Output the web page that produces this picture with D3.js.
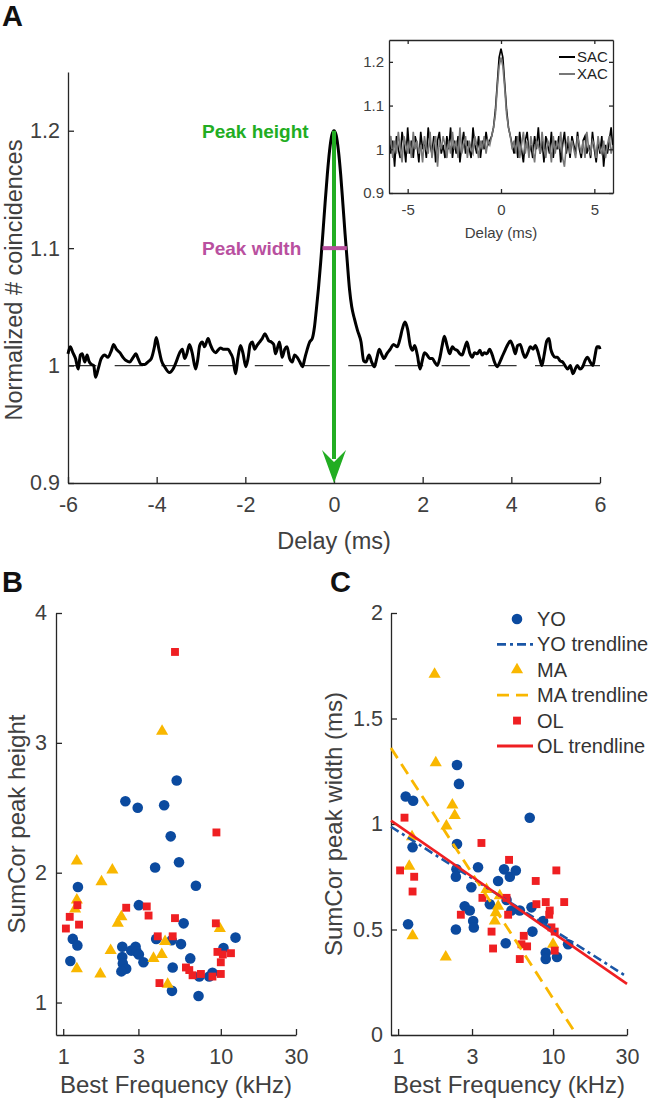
<!DOCTYPE html>
<html><head><meta charset="utf-8">
<script src="https://cdn.jsdelivr.net/npm/d3@7"></script>
<style>
body{margin:0;background:#fff;}
svg{display:block;font-family:"Liberation Sans",Arial,Helvetica,sans-serif;}
</style>
</head><body>
<svg id="chart" width="653" height="1101"></svg>
<script>
// ---------------- DATA ----------------
// Panel A main trace (delay in ms, normalized coincidences)
const traceDelay = [-6.00,-5.95,-5.89,-5.83,-5.77,-5.72,-5.68,-5.62,-5.57,-5.53,-5.47,-5.42,-5.38,-5.32,-5.25,-5.17,-5.10,-5.02,-4.97,-4.91,-4.83,-4.76,-4.68,-4.61,-4.53,-4.47,-4.42,-4.35,-4.27,-4.20,-4.12,-4.05,-4.01,-3.95,-3.89,-3.82,-3.71,-3.63,-3.56,-3.48,-3.42,-3.37,-3.32,-3.26,-3.20,-3.12,-3.07,-3.03,-2.97,-2.92,-2.84,-2.79,-2.73,-2.67,-2.62,-2.56,-2.50,-2.44,-2.39,-2.34,-2.28,-2.22,-2.17,-2.11,-2.05,-1.99,-1.94,-1.89,-1.84,-1.79,-1.74,-1.68,-1.62,-1.56,-1.51,-1.47,-1.41,-1.36,-1.32,-1.26,-1.23,-1.17,-1.11,-1.06,-1.00,-0.94,-0.89,-0.83,-0.77,-0.71,-0.66,-0.61,-0.55,-0.49,-0.44,
-0.40,-0.35,-0.30,-0.25,-0.20,-0.15,-0.10,-0.05,0,0.05,0.10,0.15,0.20,0.25,0.30,0.35,0.40,0.46,0.53,0.61,0.67,0.72,
0.79,0.85,0.91,0.97,1.02,1.07,1.13,1.19,1.27,1.34,1.43,1.49,1.54,1.60,1.66,1.72,1.77,1.82,1.88,1.94,1.99,2.04,2.10,2.16,2.22,2.27,2.33,2.39,2.44,2.49,2.55,2.61,2.67,2.72,2.78,2.84,2.89,2.94,3.00,3.06,3.12,3.17,3.23,3.29,3.34,3.39,3.45,3.51,3.57,3.62,3.68,3.74,3.81,3.87,3.92,3.98,4.04,4.09,4.14,4.20,4.26,4.31,4.37,4.43,4.49,4.54,4.59,4.64,4.69,4.74,4.80,4.85,4.89,4.94,4.99,5.04,5.10,5.16,5.21,5.27,5.33,5.39,5.44,5.49,5.55,5.61,5.66,5.72,5.78,5.84,5.89,5.93,5.98,6.00];
const traceValue = [1.010,1.016,1.011,1.006,0.997,1.009,1.010,1.003,1.009,1.004,1.001,1.000,0.990,0.997,1.006,1.009,1.007,1.013,1.018,1.014,1.011,1.007,1.004,1.003,1.007,1.010,1.006,1.001,1.001,1.003,1.006,1.016,1.024,1.014,1.004,0.999,0.994,0.997,1.003,1.011,1.014,1.006,1.010,1.018,1.011,0.997,1.006,1.017,1.020,1.016,1.023,1.018,1.013,1.011,1.013,1.015,1.014,1.014,1.014,1.011,1.006,0.993,1.006,1.017,1.010,0.999,1.006,1.018,1.020,1.014,1.017,1.020,1.023,1.027,1.024,1.021,1.020,1.018,1.010,1.017,1.020,1.007,1.014,1.016,1.006,1.003,1.009,1.007,1.003,0.999,1.006,1.013,1.020,1.023,1.033,
1.047,1.066,1.088,1.113,1.139,1.163,1.183,1.196,1.200,1.196,1.183,1.163,1.138,1.112,1.088,1.065,1.050,1.040,1.030,1.020,1.004,1.003,
1.009,1.003,0.999,1.007,1.014,1.010,1.006,1.010,1.014,1.018,1.016,1.023,1.031,1.037,1.031,1.017,1.013,1.017,1.009,0.997,1.004,1.011,1.009,1.006,1.006,1.003,1.000,1.007,1.017,1.025,1.017,1.010,1.016,1.014,1.013,1.010,1.009,1.014,1.020,1.011,1.007,1.011,1.010,1.013,1.009,1.011,1.010,1.014,1.009,1.003,0.999,1.003,1.009,1.014,1.018,1.021,1.016,1.010,1.017,1.018,1.011,1.007,1.011,1.016,1.014,1.017,1.013,1.006,1.000,1.009,1.021,1.023,1.014,1.009,1.007,1.007,1.004,1.003,1.000,0.997,1.000,0.993,0.997,1.000,0.997,0.999,1.004,1.007,1.003,1.000,1.009,1.016,1.016,1.014];
const aTicksX = [-6,-4,-2,0,2,4,6];
const aTicksY = [0.9,1,1.1,1.2];
const aTickLabelsY = ["0.9","1","1.1","1.2"];
const peakHeight = 1.2;
const peakWidthLevel = 1.1;
const peakWidthRange = [-0.26, 0.29];

// Inset: SAC / XAC, sampled every 0.1 ms from -6 to 6
const insetStart = -6, insetStep = 0.1;
const sacValues = [1.04,0.99,1.02,0.96,1.03,1.00,0.98,1.04,1.01,0.97,
1.05,0.99,1.02,0.98,1.03,1.01,0.97,1.04,1.00,1.02,
0.98,1.05,1.01,0.99,1.03,0.97,1.02,1.04,0.99,1.01,
0.98,1.03,1.00,1.05,0.98,1.02,0.99,1.03,0.97,1.01,
1.04,0.99,1.02,1.00,0.98,1.05,1.01,0.99,1.03,0.98,
1.02,1.00,1.04,1.01,1.02,
1.03,1.05,1.09,1.15,1.21,1.23,1.21,1.15,1.09,1.05,1.03,
1.01,0.99,1.03,0.98,1.04,1.00,0.97,1.02,1.04,0.99,
1.01,0.98,1.03,1.00,1.05,0.99,1.02,0.97,1.03,1.01,
0.99,1.04,0.98,1.02,1.00,1.03,0.97,1.01,1.04,0.99,
1.02,0.98,1.03,1.01,0.99,1.04,1.00,0.98,1.02,1.03,
0.99,1.01,0.98,1.04,1.00,0.97,1.02,0.99,1.03,0.96,
1.01,0.99,1.02,1.05,1.00];
const xacValues = [1.00,1.03,0.98,1.02,0.99,1.04,1.00,0.97,1.03,1.01,
0.99,1.02,0.98,1.04,1.00,1.02,0.99,1.01,0.97,1.03,
1.00,0.99,1.04,0.98,1.01,1.03,0.96,1.02,1.00,1.03,
1.01,0.98,1.02,0.99,1.04,1.00,1.02,0.98,1.05,0.99,
1.01,1.03,0.98,1.02,1.00,0.99,1.03,1.01,0.98,1.02,
1.00,1.03,0.99,1.02,1.01,
1.03,1.05,1.08,1.14,1.19,1.21,1.19,1.14,1.08,1.05,1.03,
1.00,1.02,0.99,1.03,0.98,1.01,1.04,0.99,1.02,0.98,
1.03,1.00,0.97,1.02,1.01,0.99,1.04,1.00,0.98,1.02,
1.01,0.97,1.03,0.99,1.02,1.00,1.04,0.98,0.96,1.01,
1.03,0.99,1.02,1.00,0.98,1.03,1.01,0.99,1.02,0.98,
1.04,1.00,0.99,1.02,1.01,0.98,1.03,1.00,0.99,1.02,
0.98,1.01,1.03,0.99,1.01];
const insetTicksX = [-5,0,5];
const insetTicksY = [0.9,1,1.1,1.2];
const insetLegend = ["SAC","XAC"];

// Panel B: [best frequency kHz, SumCor peak height]
const yoHeight = [[2.48,2.55],[2.97,2.50],[4.37,2.52],[5.25,2.71],[4.81,2.28],[3.83,2.04],[5.43,2.08],[6.95,1.90],[1.24,1.89],[3.02,1.75],[1.15,1.49],[1.23,1.44],[1.11,1.32],[2.37,1.43],[2.37,1.35],[2.39,1.30],[2.51,1.26],[2.34,1.24],[2.70,1.40],[2.88,1.43],[2.93,1.39],[3.02,1.37],[3.23,1.31],[3.89,1.49],[4.88,1.48],[5.81,1.61],[5.59,1.45],[4.90,1.09],[4.95,1.27],[7.22,1.05],[6.40,1.34],[7.30,1.20],[8.44,1.20],[8.85,1.23],[10.4,1.42],[12.4,1.50]];
const maHeight = [[4.24,3.09],[1.22,2.09],[1.75,1.93],[2.05,2.02],[1.22,1.79],[1.19,1.72],[1.22,1.26],[2.34,1.66],[2.22,1.61],[2.00,1.40],[1.72,1.22],[4.43,1.47],[3.74,1.34],[4.22,1.37],[4.60,1.14],[9.86,1.57]];
const olHeight = [[9.38,2.31],[5.12,3.70],[1.23,1.75],[1.10,1.66],[1.26,1.60],[1.04,1.57],[2.51,1.73],[3.39,1.74],[3.48,1.67],[3.98,1.51],[4.95,1.51],[5.12,1.65],[4.08,1.15],[6.01,1.27],[6.31,1.25],[6.62,1.21],[7.48,1.22],[8.85,1.20],[10.0,1.22],[9.52,1.39],[10.3,1.37],[10.0,1.31],[11.6,1.38],[9.30,1.61]];
const bfTicks = [1,3,10,30];
const heightTicks = [1,2,3,4];

// Panel C: [best frequency kHz, SumCor peak width ms]
const yoWidth = [[1.12,1.13],[1.25,1.11],[1.24,0.89],[1.16,0.525],[2.40,1.28],[2.47,1.19],[2.40,0.905],[2.38,0.785],[2.36,0.75],[2.36,0.50],[2.69,0.61],[2.90,0.59],[2.97,0.70],[3.05,0.54],[3.08,0.51],[3.28,0.795],[3.91,0.62],[4.42,0.73],[4.83,0.785],[4.95,0.435],[5.01,0.64],[5.26,0.75],[5.39,0.59],[5.75,0.78],[6.10,0.59],[7.07,1.03],[7.26,0.605],[7.36,0.49],[8.62,0.54],[8.97,0.39],[8.97,0.36],[10.6,0.37],[12.5,0.43]];
const maWidth = [[1.72,1.71],[1.75,1.29],[2.24,1.09],[2.32,1.04],[2.05,0.99],[1.23,0.94],[1.18,0.80],[1.24,0.47],[2.03,0.37],[3.72,0.69],[4.53,0.66],[4.42,0.61],[4.27,0.58],[4.21,0.54],[10.0,0.43]];
const olWidth = [[1.10,1.03],[1.03,0.78],[1.27,0.75],[1.24,0.68],[2.54,0.57],[3.45,0.91],[3.50,0.65],[4.01,0.49],[4.10,0.41],[5.01,0.65],[5.13,0.57],[5.20,0.83],[6.10,0.36],[6.25,0.43],[6.47,0.47],[6.80,0.42],[7.73,0.73],[7.81,0.62],[8.97,0.63],[9.52,0.59],[9.45,0.57],[9.76,0.51],[10.25,0.49],[10.25,0.40],[10.5,0.78],[11.8,0.63]];
const yoTrend = [[0.9,0.987],[30,0.276]];
const maTrend = [[0.9,1.36],[14.2,0]];
const olTrend = [[0.9,1.016],[30,0.242]];
const widthTicks = [0,0.5,1,1.5,2];
const widthTickLabels = ["0","0.5","1","1.5","2"];
const legendLabels = ["YO","YO trendline","MA","MA trendline","OL","OL trendline"];

// ---------------- STYLE ----------------
const C_YO = "#0b4a9f", C_MA = "#f9b700", C_OL = "#ef1f22";
const C_GREEN = "#22ad22", C_MAG = "#b9509f";
const AX = "#262626", TXT = "#404040";

const svg = d3.select("#chart");

function styleAxis(g, fs){
  g.attr("font-family", null).attr("font-size", null);
  g.select(".domain").attr("stroke", AX).attr("stroke-width", 1.3);
  g.selectAll(".tick line").attr("stroke", AX).attr("stroke-width", 1.3);
  g.selectAll(".tick text").attr("fill", TXT).style("font-size", fs + "px");
}
function label(x, y, text, fs, opts = {}){
  const t = svg.append("text").attr("x", x).attr("y", y).text(text)
    .style("font-size", fs + "px").attr("fill", opts.fill || TXT)
    .attr("text-anchor", opts.anchor || "middle");
  if (opts.bold) t.style("font-weight", "bold");
  if (opts.rotate) t.attr("transform", `rotate(-90,${x},${y})`);
  return t;
}

// ---------------- PANEL A ----------------
const xA = d3.scaleLinear().domain([-6, 6]).range([68, 600]);
const yA = d3.scaleLinear().domain([0.9, 1.25]).range([483, 72]);

svg.append("line").attr("x1", xA(-6)).attr("x2", xA(6)).attr("y1", yA(1)).attr("y2", yA(1))
  .attr("stroke", "#333").attr("stroke-width", 1.3).attr("stroke-dasharray", "28.3,18.4");

const gAx = svg.append("g").attr("transform", `translate(0,${yA(0.9)})`)
  .call(d3.axisBottom(xA).tickValues(aTicksX).tickFormat(d => String(d)).tickSizeInner(-6).tickSizeOuter(0).tickPadding(14));
styleAxis(gAx, 21.5);
const gAy = svg.append("g").attr("transform", `translate(${xA(-6)},0)`)
  .call(d3.axisLeft(yA).tickValues(aTicksY).tickFormat((d, i) => aTickLabelsY[i]).tickSizeInner(-6).tickSizeOuter(0).tickPadding(8));
styleAxis(gAy, 21.5);

const traceData = traceDelay.map((d, i) => [d, traceValue[i]]);
svg.append("path").datum(traceData)
  .attr("d", d3.line().x(d => xA(d[0])).y(d => yA(d[1])).curve(d3.curveMonotoneX))
  .attr("fill", "none").attr("stroke", "#000").attr("stroke-width", 3).attr("stroke-linejoin", "round");

// green arrow (peak height)
const ax0 = xA(0);
svg.append("line").attr("x1", ax0).attr("x2", ax0).attr("y1", yA(peakHeight)).attr("y2", yA(0.9) - 24)
  .attr("stroke", C_GREEN).attr("stroke-width", 4);
const tipY = yA(0.9);
svg.append("path")
  .attr("d", `M${ax0},${tipY} L${ax0 - 12},${tipY - 33} L${ax0},${tipY - 21} L${ax0 + 12},${tipY - 33} Z`)
  .attr("fill", C_GREEN);
// magenta bar (peak width)
svg.append("line").attr("x1", xA(peakWidthRange[0])).attr("x2", xA(peakWidthRange[1]))
  .attr("y1", yA(peakWidthLevel)).attr("y2", yA(peakWidthLevel))
  .attr("stroke", C_MAG).attr("stroke-width", 4);

label(202, yA(peakHeight) + 7, "Peak height", 19, {anchor: "start", fill: C_GREEN, bold: true});
label(202, yA(peakWidthLevel) + 7, "Peak width", 19, {anchor: "start", fill: C_MAG, bold: true});
label(xA(0), 549, "Delay (ms)", 23.5);
label(22, 280, "Normalized # coincidences", 23.5, {rotate: true});
label(2, 26, "A", 29, {anchor: "start", fill: "#111", bold: true});

// ---------------- INSET ----------------
const xI = d3.scaleLinear().domain([-6, 6]).range([389, 613]);
const yI = d3.scaleLinear().domain([0.9, 1.25]).range([193, 40]);
svg.append("clipPath").attr("id", "insetClip").append("rect")
  .attr("x", 389).attr("y", 40).attr("width", 224).attr("height", 153);
const insetLine = d3.line().x((d, i) => xI(insetStart + i * insetStep)).y(d => yI(d));
const gIn = svg.append("g").attr("clip-path", "url(#insetClip)");
gIn.append("path").datum(sacValues).attr("d", insetLine).attr("fill", "none").attr("stroke", "#000").attr("stroke-width", 1.6);
gIn.append("path").datum(xacValues).attr("d", insetLine).attr("fill", "none").attr("stroke", "#777").attr("stroke-width", 1.6);

const gIb = svg.append("g").attr("transform", `translate(0,193)`)
  .call(d3.axisBottom(xI).tickValues(insetTicksX).tickFormat(d => String(d)).tickSizeInner(-4).tickSizeOuter(0).tickPadding(11));
styleAxis(gIb, 15);
const gIt = svg.append("g").attr("transform", `translate(0,40)`)
  .call(d3.axisTop(xI).tickValues(insetTicksX).tickFormat("").tickSizeInner(-4).tickSizeOuter(0));
styleAxis(gIt, 15);
const gIl = svg.append("g").attr("transform", `translate(389,0)`)
  .call(d3.axisLeft(yI).tickValues(insetTicksY).tickFormat(d => String(d)).tickSizeInner(-4).tickSizeOuter(0).tickPadding(5));
styleAxis(gIl, 15);
const gIr = svg.append("g").attr("transform", `translate(613,0)`)
  .call(d3.axisRight(yI).tickValues(insetTicksY).tickFormat("").tickSizeInner(-4).tickSizeOuter(0));
styleAxis(gIr, 15);
label(xI(0), 238, "Delay (ms)", 15);
insetLegend.forEach((name, i) => {
  const y = 57 + i * 17;
  svg.append("line").attr("x1", 559).attr("x2", 575).attr("y1", y).attr("y2", y)
    .attr("stroke", i === 0 ? "#000" : "#777").attr("stroke-width", 2);
  label(577, y + 5, name, 15, {anchor: "start", fill: "#222"});
});

// ---------------- PANEL B ----------------
const xB = d3.scaleLog().domain([0.9, 30]).range([56, 296]);
const yB = d3.scaleLinear().domain([0.75, 4]).range([1035, 613]);
const gBx = svg.append("g").attr("transform", `translate(0,1035)`)
  .call(d3.axisBottom(xB).tickValues(bfTicks).tickFormat(d => String(d)).tickSizeInner(-6).tickSizeOuter(0).tickPadding(14));
styleAxis(gBx, 21.5);
const gBy = svg.append("g").attr("transform", `translate(56,0)`)
  .call(d3.axisLeft(yB).tickValues(heightTicks).tickFormat(d => String(d)).tickSizeInner(-6).tickSizeOuter(0).tickPadding(9));
styleAxis(gBy, 21.5);

const symCircle = d3.symbol().type(d3.symbolCircle).size(88)();
const symTri = d3.symbol().type(d3.symbolTriangle).size(64)();
const symSq = d3.symbol().type(d3.symbolSquare).size(62)();

function scatter(data, xs, ys, sym, color){
  svg.append("g").selectAll("path").data(data).join("path")
    .attr("d", sym).attr("fill", color)
    .attr("transform", d => `translate(${xs(d[0])},${ys(d[1])})`);
}
scatter(yoHeight, xB, yB, symCircle, C_YO);
scatter(maHeight, xB, yB, symTri, C_MA);
scatter(olHeight, xB, yB, symSq, C_OL);

label(176, 1093, "Best Frequency (kHz)", 24);
label(25, 824, "SumCor peak height", 24, {rotate: true});
label(2, 592, "B", 29, {anchor: "start", fill: "#111", bold: true});

// ---------------- PANEL C ----------------
const xC = d3.scaleLog().domain([0.9, 30]).range([391, 627]);
const yC = d3.scaleLinear().domain([0, 2]).range([1035, 613]);
const gCx = svg.append("g").attr("transform", `translate(0,1035)`)
  .call(d3.axisBottom(xC).tickValues(bfTicks).tickFormat(d => String(d)).tickSizeInner(-6).tickSizeOuter(0).tickPadding(14));
styleAxis(gCx, 21.5);
const gCy = svg.append("g").attr("transform", `translate(391,0)`)
  .call(d3.axisLeft(yC).tickValues(widthTicks).tickFormat((d, i) => widthTickLabels[i]).tickSizeInner(-6).tickSizeOuter(0).tickPadding(8));
styleAxis(gCy, 21.5);

scatter(yoWidth, xC, yC, symCircle, C_YO);
scatter(maWidth, xC, yC, symTri, C_MA);
scatter(olWidth, xC, yC, symSq, C_OL);

const trendLine = d3.line().x(d => xC(d[0])).y(d => yC(d[1]));
svg.append("path").datum(yoTrend).attr("d", trendLine).attr("fill", "none")
  .attr("stroke", "#1a56a6").attr("stroke-width", 2.6).attr("stroke-dasharray", "9,4,3,4");
svg.append("path").datum(maTrend).attr("d", trendLine).attr("fill", "none")
  .attr("stroke", C_MA).attr("stroke-width", 2.8).attr("stroke-dasharray", "12,7");
svg.append("path").datum(olTrend).attr("d", trendLine).attr("fill", "none")
  .attr("stroke", C_OL).attr("stroke-width", 2.6);

// legend
const legendSyms = [
  {kind: "sym", d: symCircle, c: C_YO},
  {kind: "line", c: "#1a56a6", dash: "9,4,3,4"},
  {kind: "sym", d: symTri, c: C_MA},
  {kind: "line", c: C_MA, dash: "12,7"},
  {kind: "sym", d: symSq, c: C_OL},
  {kind: "line", c: C_OL, dash: null}
];
legendLabels.forEach((name, i) => {
  const y = 619 + i * 25.4;
  const s = legendSyms[i];
  if (s.kind === "sym") {
    svg.append("path").attr("d", s.d).attr("fill", s.c).attr("transform", `translate(517,${y})`);
  } else {
    const l = svg.append("line").attr("x1", 497).attr("x2", 533).attr("y1", y).attr("y2", y)
      .attr("stroke", s.c).attr("stroke-width", 2.8);
    if (s.dash) l.attr("stroke-dasharray", s.dash);
  }
  label(537, y + 7, name, 20, {anchor: "start", fill: "#333"});
});

label(509, 1093, "Best Frequency (kHz)", 24);
label(342, 824, "SumCor peak width (ms)", 24, {rotate: true});
label(330, 592, "C", 29, {anchor: "start", fill: "#111", bold: true});
</script>
</body></html>
